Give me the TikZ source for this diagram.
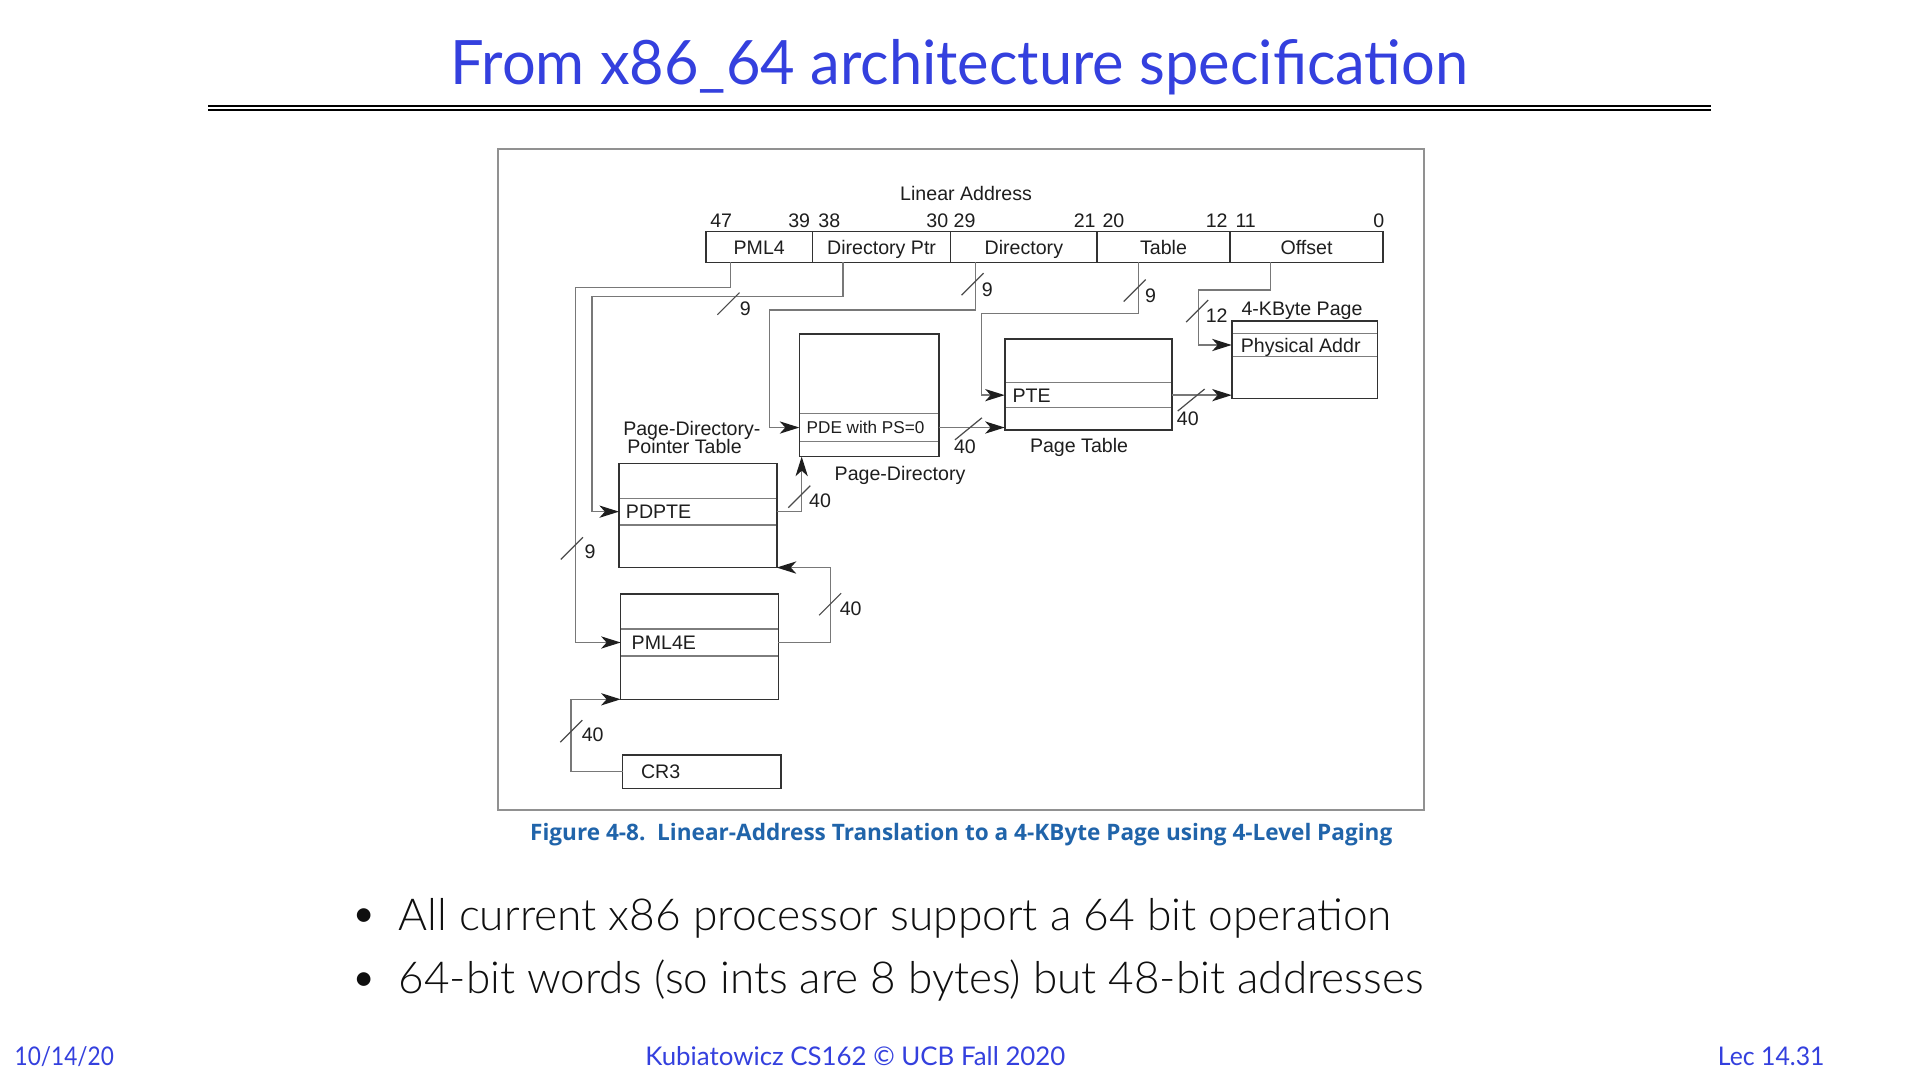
\documentclass[tikz,border=0pt]{standalone}
\usepackage{fontspec}
\usepackage{graphicx}
\setmainfont{Liberation Sans}
\newfontfamily\slidefont{Lato}
\IfFontExistsTF{Lato Light}{\newfontfamily\bodyfont{Lato Light}}{\newfontfamily\bodyfont{Lato}}
\newfontfamily\capfont{Open Sans}
\usetikzlibrary{arrows.meta,calc}

\definecolor{slideblue}{RGB}{52,64,222}
\definecolor{capblue}{RGB}{32,100,170}
\definecolor{ink}{RGB}{30,30,30}
\definecolor{boxdark}{RGB}{50,50,50}
\definecolor{rowgray}{RGB}{125,125,125}
\definecolor{wirecol}{RGB}{120,120,120}
\definecolor{framegray}{RGB}{145,145,145}
\definecolor{bodyink}{RGB}{15,15,15}

% slanted bus-width mark centred on a point given as x,y
\newcommand\busmark[2][9]{\draw[tick] ([shift={(-#1,9)}]#2) -- ([shift={(#1,-9)}]#2);}

\begin{document}
\begin{tikzpicture}[x=1pt,y=-1pt,
  every node/.style={inner sep=0pt, outer sep=0pt},
  dia/.style={font=\fontsize{16}{16}\selectfont, text=ink, text height=11.5pt, text depth=0pt},
  small/.style={font=\fontsize{14}{14}\selectfont, text=ink, text height=10pt, text depth=0pt},
  field/.style={draw=boxdark, line width=1.2pt, minimum height=25pt, dia},
  tbl/.style={draw=boxdark, line width=1.3pt, anchor=north west},
  row/.style={draw=rowgray, line width=1pt, anchor=north west},
  wire/.style={draw=wirecol, line width=1.1pt},
  arr/.style={wire, -{Stealth[length=16pt,width=10pt,inset=4.5pt,color=ink]}},
  tick/.style={draw=ink!80, line width=1pt},
  slidetext/.style={text=bodyink, anchor=base west},
  foot/.style={text=slideblue, anchor=base west}
]
\fill[white] (0,0) rectangle (1568,882);
\useasboundingbox (0,0) rectangle (1568,882);

% ---------- slide title ----------
\node[anchor=base, text=slideblue] (title) at (783.5,69.4)
  {\resizebox{831pt}{\height}{\slidefont\fontsize{50}{50}\selectfont From x86\_64 architecture specification}};
\draw[line width=2pt] (170,86.6) -- (1397,86.6);
\draw[line width=1.6pt] (170,90.2) -- (1397,90.2);

% ---------- figure frame ----------
\draw[framegray, line width=1.6pt] (407,122) rectangle (1163,661.5);

% ---------- linear address ----------
\node[dia] (la) at (789,158.4) {Linear Address};
\foreach \n/\x/\t in {b47/589/47, b39/652.7/39, b38/677.3/38, b30/765.5/30, b29/787.7/29,
                       b21/885.8/21, b20/909.3/20, b12/993.6/12, b11/1017.3/11, b0/1126.1/0}
  \node[dia] (\n) at (\x,179.7) {\t};

\node[field, minimum width=86.9pt]  (fPML4) at (620.05,201.7) {PML4};
\node[field, minimum width=112.9pt] (fDPtr) at (719.95,201.7) {Directory Ptr};
\node[field, minimum width=119.5pt] (fDir)  at (836.15,201.7) {Directory};
\node[field, minimum width=108.6pt] (fTab)  at (950.2,201.7)  {Table};
\node[field, minimum width=125pt]   (fOff)  at (1067,201.7)   {Offset};

% taps on the bottom edge of the address fields
\coordinate (tap1) at (596.3,214.2);
\coordinate (tap2) at (688.5,214.2);
\coordinate (tap3) at (796.5,214.2);
\coordinate (tap4) at (929.8,214.2);
\coordinate (tap5) at (1037.8,214.2);

% ---------- table rows (drawn first, borders on top) ----------
\node[row, minimum width=119.2pt, minimum height=19.1pt] (phys)  at (1005.9,272.2) {};
\node[row, minimum width=136.4pt, minimum height=20.4pt] (pte)   at (820.5,312.5) {};
\node[row, minimum width=114pt,   minimum height=22.3pt] (pde)   at (652.8,338) {};
\node[row, minimum width=128.8pt, minimum height=21.7pt] (pdpte) at (505.5,407) {};
\node[row, minimum width=128.7pt, minimum height=22pt]   (pml4e) at (506.9,513.7) {};

% ---------- tables ----------
\node[tbl, minimum width=119.2pt, minimum height=63.2pt] (page)  at (1005.9,262.1) {};
\node[tbl, minimum width=136.4pt, minimum height=74.4pt] (ptab)  at (820.5,276.8) {};
\node[tbl, minimum width=114pt,   minimum height=99.9pt] (pdir)  at (652.8,273) {};
\node[tbl, minimum width=128.8pt, minimum height=85.1pt] (pdpt)  at (505.5,378.4) {};
\node[tbl, minimum width=128.7pt, minimum height=86pt]   (pml4t) at (506.9,485.1) {};
\node[tbl, minimum width=129.3pt, minimum height=27.2pt] (cr3)   at (508.5,616.6) {};

% entry texts
\node[dia, anchor=west] (tPhys)  at ([xshift=7.4pt]phys.west)  {Physical Addr};
\node[dia, anchor=west] (tPte)   at ([xshift=6.4pt]pte.west)   {PTE};
\node[small, anchor=west] (tPde) at ([xshift=6pt]pde.west)     {PDE with PS=0};
\node[dia, anchor=west] (tPdpte) at ([xshift=5.7pt]pdpte.west) {PDPTE};
\node[dia, anchor=west] (tPml4e) at ([xshift=9pt]pml4e.west)   {PML4E};
\node[dia, anchor=west] (tCr3)   at ([xshift=15pt]cr3.west)    {CR3};

% table captions
\node[dia] (cPage) at (1063.3,251.8) {4-KByte Page};
\node[dia] (cPtab) at (881.2,363.4)  {Page Table};
\node[dia] (cPdir) at (735,386.6)    {Page-Directory};
\node[dia, anchor=west] (cPdpt1) at (509,349.8) {Page-Directory-};
\node[dia, anchor=west] (cPdpt2) at (512.3,364.8) {Pointer Table};

% ---------- index connectors from the linear address ----------
\coordinate (e1) at (470.1,234.6);
\coordinate (e2) at (483.5,242.3);
\coordinate (e3) at (628.3,253.2);
\coordinate (e4) at (801.4,255.9);
\coordinate (e5) at (978.9,236.8);
\draw[arr] (tap1) |- (e1) |- (pml4e.west);
\draw[arr] (tap2) |- (e2) |- (pdpte.west);
\draw[arr] (tap3) |- (e3) |- (pde.west);
\draw[arr] (tap4) |- (e4) |- (pte.west);
\draw[arr] (tap5) |- (e5) |- (phys.west);

% ---------- base-address connectors ----------
\coordinate (e6) at (466.3,571.1);
\coordinate (e7) at (678.4,463.5);
\coordinate (e8) at (654.7,372.9);
\draw[arr] (cr3.west) -| (e6) -- (pml4t.south west);
\draw[arr] (pml4e.east) -| (e7) -- (pdpt.south east);
\draw[arr] (pdpte.east) -| (e8);
\draw[arr] (pde.east) -- (pde.east -| ptab.west);
\draw[arr] (pte.east) -- (pte.east -| page.west);

% ---------- bus widths ----------
\busmark{467,447.8}
\busmark{594.9,248}
\busmark{794.3,232.1}
\busmark{926.7,237.3}
\busmark{977.7,254.1}
\busmark{466.6,597.1}
\busmark{677.9,493.5}
\busmark{652.7,405.6}
\busmark[11]{790.9,350.2}
\busmark[11]{972.8,326.7}

\node[dia] (w1)  at (481.8,450.5) {9};
\node[dia] (w2)  at (608.6,251.8) {9};
\node[dia] (w3)  at (806.3,236.3) {9};
\node[dia] (w4)  at (939.6,240.9) {9};
\node[dia] (w5)  at (993.6,257.3) {12};
\node[dia] (w6)  at (484,600.2)   {40};
\node[dia] (w7)  at (694.7,496.8) {40};
\node[dia] (w8)  at (669.7,409.1) {40};
\node[dia] (w9)  at (788,364.8)   {40};
\node[dia] (w10) at (970,341.6)   {40};

% ---------- figure caption ----------
\node[anchor=base, text=capblue] (figcap) at (785,686.5)
  {\resizebox{704pt}{\height}{\capfont\bfseries\fontsize{18.5}{19}\selectfont Figure 4-8.\ \ Linear-Address Translation to a 4-KByte Page using 4-Level Paging}};

% ---------- bullets ----------
\node[anchor=base, text=bodyink] (dot1) at (297,757) {\slidefont\fontsize{30}{30}\selectfont\textbullet};
\node[anchor=base, text=bodyink] (dot2) at (297,808.5) {\slidefont\fontsize{30}{30}\selectfont\textbullet};
\node[slidetext] (bul1) at (325.5,759.5)
  {\resizebox{811pt}{\height}{\bodyfont\fontsize{36}{36}\selectfont All current x86 processor support a 64 bit operation}};
\node[slidetext] (bul2) at (325.5,811)
  {\resizebox{837pt}{\height}{\bodyfont\fontsize{36}{36}\selectfont 64-bit words (so ints are 8 bytes) but 48-bit addresses}};

% ---------- footer ----------
\node[foot] (fdate) at (12,869.8)   {\resizebox{81pt}{\height}{\slidefont\fontsize{21}{21}\selectfont 10/14/20}};
\node[foot] (fmid)  at (527,869.8)  {\resizebox{343pt}{\height}{\slidefont\fontsize{21}{21}\selectfont Kubiatowicz CS162 © UCB Fall 2020}};
\node[foot] (fnum)  at (1403,869.8) {\resizebox{87pt}{\height}{\slidefont\fontsize{21}{21}\selectfont Lec 14.31}};
\end{tikzpicture}
\end{document}
